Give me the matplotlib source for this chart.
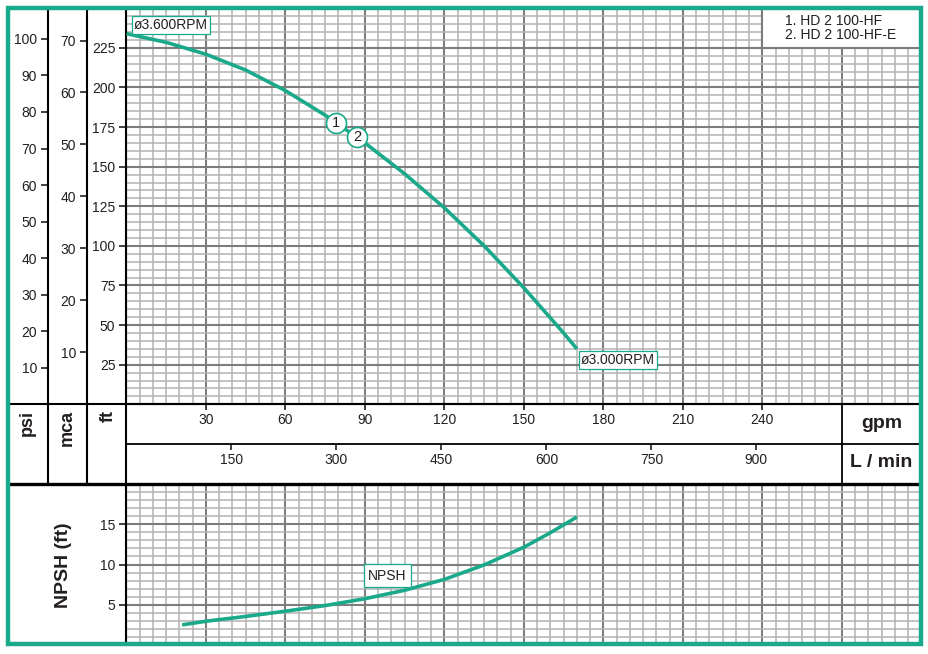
import numpy as np
import matplotlib
matplotlib.use("Agg")
import matplotlib.pyplot as plt
from matplotlib.ticker import MultipleLocator
from matplotlib.patches import Rectangle

# ---------------- data ----------------
Q_HEAD_GPM = [0, 15, 30, 45, 60, 75, 90, 105, 120, 135, 150, 165, 170]
HEAD_FT = [234, 228.5, 221, 211, 198, 182.5, 165, 145.5, 124, 100, 73.5, 45, 35]

Q_NPSH_GPM = [21, 30, 45, 60, 75, 90, 105, 120, 135, 150, 160, 170]
NPSH_FT = [2.5, 2.95, 3.55, 4.2, 4.9, 5.75, 6.8, 8.15, 9.95, 12.15, 13.95, 15.9]

PSI_TICKS = [10, 20, 30, 40, 50, 60, 70, 80, 90, 100]
MCA_TICKS = [10, 20, 30, 40, 50, 60, 70]
FT_TICKS = [25, 50, 75, 100, 125, 150, 175, 200, 225]
GPM_TICKS = [30, 60, 90, 120, 150, 180, 210, 240]
LPM_TICKS = [150, 300, 450, 600, 750, 900]
NPSH_TICKS = [5, 10, 15]

PUMP_MODELS = ["HD 2 100-HF", "HD 2 100-HF-E"]
MODEL_MARK_Q = [79, 87]
SPEED_LABELS = ["ø3.600RPM", "ø3.000RPM"]

GPM_MAX = 300
FT_MAX = 250
NPSH_MAX = 20
FT_PER_PSI = 2.3067
FT_PER_M = 3.2808
LPM_PER_GPM = 3.78541

# ---------------- style ----------------
TEAL = "#1aa98a"
INK = "#231f20"
MAJ_C, MAJ_W = "#7d7d7d", 1.5
MIN_C, MIN_W = "#b3b3b3", 1.1

plt.rcParams["font.family"] = ["Liberation Sans", "DejaVu Sans"]

W, H = 929, 654
fig = plt.figure(figsize=(W / 100, H / 100), dpi=100)
fig.patch.set_facecolor("white")


def rect(x0, y0, x1, y1):
    return [x0 / W, 1 - y1 / H, (x1 - x0) / W, (y1 - y0) / H]


XL, XR = 126.5, 921.3
Y_TOP, Y_MAIN_B = 8.3, 404.3
Y_ROW1_B, Y_ROW2_B = 444.3, 484.0
Y_NP_B = 645.0
X_PSI, X_MCA = 48.0, 87.3


def style_grid(ax, xmaj, xmin, ymin, show_bottom=True):
    ax.xaxis.set_major_locator(MultipleLocator(xmaj))
    ax.xaxis.set_minor_locator(MultipleLocator(xmin))
    ax.yaxis.set_minor_locator(MultipleLocator(ymin))
    ax.grid(which="minor", color=MIN_C, lw=MIN_W)
    ax.grid(which="major", color=MAJ_C, lw=MAJ_W)
    ax.set_axisbelow(True)
    ax.tick_params(axis="x", which="both", length=0, labelbottom=False)
    ax.tick_params(axis="y", which="minor", length=0)
    ax.tick_params(axis="y", which="major", direction="out", length=5,
                   width=1.2, labelsize=10, pad=3, colors=INK)
    for s in ["top", "right"]:
        ax.spines[s].set_visible(False)
    ax.spines["bottom"].set_visible(show_bottom)
    for s in ["left", "bottom"]:
        ax.spines[s].set_linewidth(1.5)
        ax.spines[s].set_color("black")
        ax.spines[s].set_capstyle("butt")


# ---------------- main H-Q axes ----------------
ax = fig.add_axes(rect(XL, Y_TOP, XR, Y_MAIN_B))
ax.set_xlim(0, GPM_MAX)
ax.set_ylim(0, FT_MAX)
style_grid(ax, 30, 5, 5)
ax.set_yticks(FT_TICKS)
ax.plot(Q_HEAD_GPM, HEAD_FT, color=TEAL, lw=2.6, zorder=3, solid_capstyle="butt",
        solid_joinstyle="round")

# legend block (white panel top right)
ax.add_patch(Rectangle((240, 225), 60, 25, facecolor="white", edgecolor=MAJ_C,
                       lw=MAJ_W, zorder=1.5))
for i, name in enumerate(PUMP_MODELS):
    ax.text(0.8285, 0.9667 - i * 0.0345, f"{i + 1}. {name}", transform=ax.transAxes,
            ha="left", va="center", fontsize=10, color=INK, zorder=4)

# speed labels
box = dict(boxstyle="square,pad=0.15", fc="white", ec=TEAL, lw=0.9)
ax.annotate(SPEED_LABELS[0], xy=(Q_HEAD_GPM[0], HEAD_FT[0]), xytext=(7.5, 2),
            textcoords="offset pixels", ha="left", va="bottom", fontsize=10,
            color=INK, bbox=box, zorder=5)
ax.annotate(SPEED_LABELS[1], xy=(Q_HEAD_GPM[-1], HEAD_FT[-1]), xytext=(3.7, -4.4),
            textcoords="offset pixels", ha="left", va="top", fontsize=10,
            color=INK, bbox=box, zorder=5)

# model markers on the curve
for i, q in enumerate(MODEL_MARK_Q):
    h = np.interp(q, Q_HEAD_GPM, HEAD_FT)
    ax.plot([q], [h], "o", ms=14.4, mfc="white", mec=TEAL, mew=1.2, zorder=6)
    ax.text(q, h, str(i + 1), ha="center", va="center", fontsize=10.5,
            color=INK, zorder=7)

# ---------------- psi & mca axes ----------------
for x0, x1, top, ticks in [(X_PSI, X_MCA, FT_MAX / FT_PER_PSI, PSI_TICKS),
                           (X_MCA, XL, FT_MAX / FT_PER_M, MCA_TICKS)]:
    a = fig.add_axes(rect(x0, Y_TOP, x1, Y_MAIN_B))
    a.set_ylim(0, top)
    a.set_xlim(0, 1)
    a.set_yticks(ticks)
    a.set_xticks([])
    a.patch.set_visible(False)
    for s in a.spines.values():
        s.set_visible(False)
    a.tick_params(axis="y", direction="out", length=5, width=1.2, labelsize=10,
                  pad=3, colors=INK)

# ---------------- flow scale rows ----------------
for y0, y1, xmax, ticks, frac in [(Y_MAIN_B, Y_ROW1_B, GPM_MAX, GPM_TICKS, 0.6075),
                                  (Y_ROW1_B, Y_ROW2_B, GPM_MAX * LPM_PER_GPM, LPM_TICKS, 0.605)]:
    a = fig.add_axes(rect(XL, y0, XR, y1))
    a.set_xlim(0, xmax)
    a.set_ylim(0, 1)
    a.set_yticks([])
    a.patch.set_visible(False)
    for s in a.spines.values():
        s.set_visible(False)
    a.set_xticks(ticks)
    a.tick_params(axis="x", top=True, bottom=False, direction="in", length=4.3,
                  width=1.2, labelbottom=False, labeltop=False, color=INK)
    for t in ticks:
        a.text(t, frac, str(t), transform=a.get_xaxis_transform(), ha="center",
               va="center", fontsize=10, color=INK)

# ---------------- NPSH axes ----------------
axn = fig.add_axes(rect(XL, Y_ROW2_B, XR, Y_NP_B))
axn.set_xlim(0, GPM_MAX)
axn.set_ylim(0, NPSH_MAX)
style_grid(axn, 30, 5, 1, show_bottom=False)
axn.set_yticks(NPSH_TICKS)
axn.grid(which="major", axis="y", color=MAJ_C, lw=MAJ_W)
axn.plot(Q_NPSH_GPM, NPSH_FT, color=TEAL, lw=2.6, zorder=3, solid_capstyle="butt",
         solid_joinstyle="round")
axn.text(98.5, 8.6, "NPSH", ha="center", va="center", fontsize=10, color=INK,
         bbox=dict(boxstyle="square,pad=0.33", fc="white", ec=TEAL, lw=0.9), zorder=5)

# ---------------- frame overlay ----------------
ov = fig.add_axes([0, 0, 1, 1], zorder=10)
ov.set_xlim(0, W)
ov.set_ylim(H, 0)
ov.axis("off")
ov.patch.set_alpha(0)
x270 = XL + 270 / GPM_MAX * (XR - XL)
lk = dict(color="black", solid_capstyle="butt")
ov.plot([X_PSI, X_PSI], [Y_TOP, Y_ROW2_B], lw=1.5, **lk)
ov.plot([X_MCA, X_MCA], [Y_TOP, Y_ROW2_B], lw=1.5, **lk)
ov.plot([XL, XL], [Y_MAIN_B, Y_ROW2_B], lw=1.5, **lk)
ov.plot([8, XR], [Y_MAIN_B, Y_MAIN_B], lw=1.5, **lk)
ov.plot([XL, XR], [Y_ROW1_B, Y_ROW1_B], lw=1.3, **lk)
ov.plot([8, XR], [Y_ROW2_B, Y_ROW2_B], lw=2.4, **lk)
ov.plot([x270, x270], [Y_MAIN_B, Y_ROW2_B], lw=1.3, **lk)

tb = dict(fontsize=13, fontweight="bold", color=INK, rotation=90, ha="center", va="top")
ov.text(27.5, 410, "psi", **tb)
ov.text(67.5, 410, "mca", **tb)
ov.text(108, 410, "ft", **tb)
ov.text(64, 565.5, "NPSH (ft)", fontsize=14, fontweight="bold", color=INK,
        rotation=90, ha="center", va="center")
ov.text((x270 + 921) / 2, 423, "gpm", fontsize=14, fontweight="bold", color=INK,
        ha="center", va="center")
ov.text((x270 + 921) / 2, 462.7, "L / min", fontsize=14, fontweight="bold", color=INK,
        ha="center", va="center")

ov.add_patch(Rectangle((8, 8), 912.8, 636, fill=False, ec=TEAL, lw=3.2, zorder=20))

fig.savefig("out.png", dpi=100)
